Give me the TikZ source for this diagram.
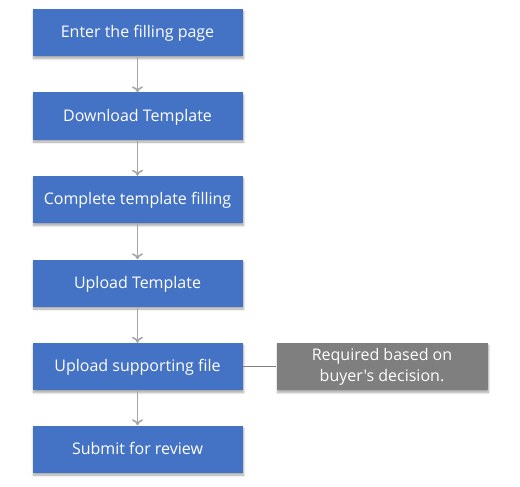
\documentclass[tikz,border=0pt]{standalone}
\usepackage{fontspec}
\setmainfont{Open Sans}[Ligatures=TeXOff]
\usetikzlibrary{arrows.meta,shadows.blur}
\definecolor{boxblue}{HTML}{4472C4}
\definecolor{boxgray}{HTML}{7F7F7F}
\definecolor{arrgray}{HTML}{A6A6A6}
\begin{document}
\begin{tikzpicture}[x=1pt,y=-1pt,
  stepbox/.style={fill=boxblue,minimum width=210pt,minimum height=47pt,inner sep=0pt,
    text=white,font=\fontsize{16}{20}\selectfont,text height=12pt,text depth=1.5pt,
    blur shadow={shadow xshift=1pt,shadow yshift=-2.5pt,shadow blur steps=6,shadow opacity=35}},
  notebox/.style={fill=boxgray,minimum width=211pt,minimum height=47pt,inner sep=0pt,
    text=white,font=\fontsize{16}{21}\selectfont,align=center,
    blur shadow={shadow xshift=1pt,shadow yshift=-2.5pt,shadow blur steps=6,shadow opacity=35}},
  flow/.style={draw=arrgray,line width=1.6pt,-{To[length=6pt,width=11pt,line width=1.6pt]}},
  link/.style={draw=boxgray,line width=0.8pt}]
\useasboundingbox (0,0) rectangle (520,487);
\node[stepbox] (s1) at (137.5,32.5) {Enter the filling page};
\node[stepbox] (s2) at (137.5,116) {Download Template};
\node[stepbox] (s3) at (137.5,199.5) {Complete template filling};
\node[stepbox] (s4) at (137.5,283) {Upload Template};
\node[stepbox] (s5) at (137.5,366.5) {Upload supporting file};
\node[stepbox] (s6) at (137.5,449) {Submit for review};
\node[notebox] (n1) at (382,366.5) {Required based on\\buyer's decision.};
\draw[flow] (s1) -- (s2);
\draw[flow] (s2) -- (s3);
\draw[flow] (s3) -- (s4);
\draw[flow] (s4) -- (s5);
\draw[flow] (s5) -- (s6);
\draw[link] (s5) -- (n1);
\end{tikzpicture}
\end{document}
